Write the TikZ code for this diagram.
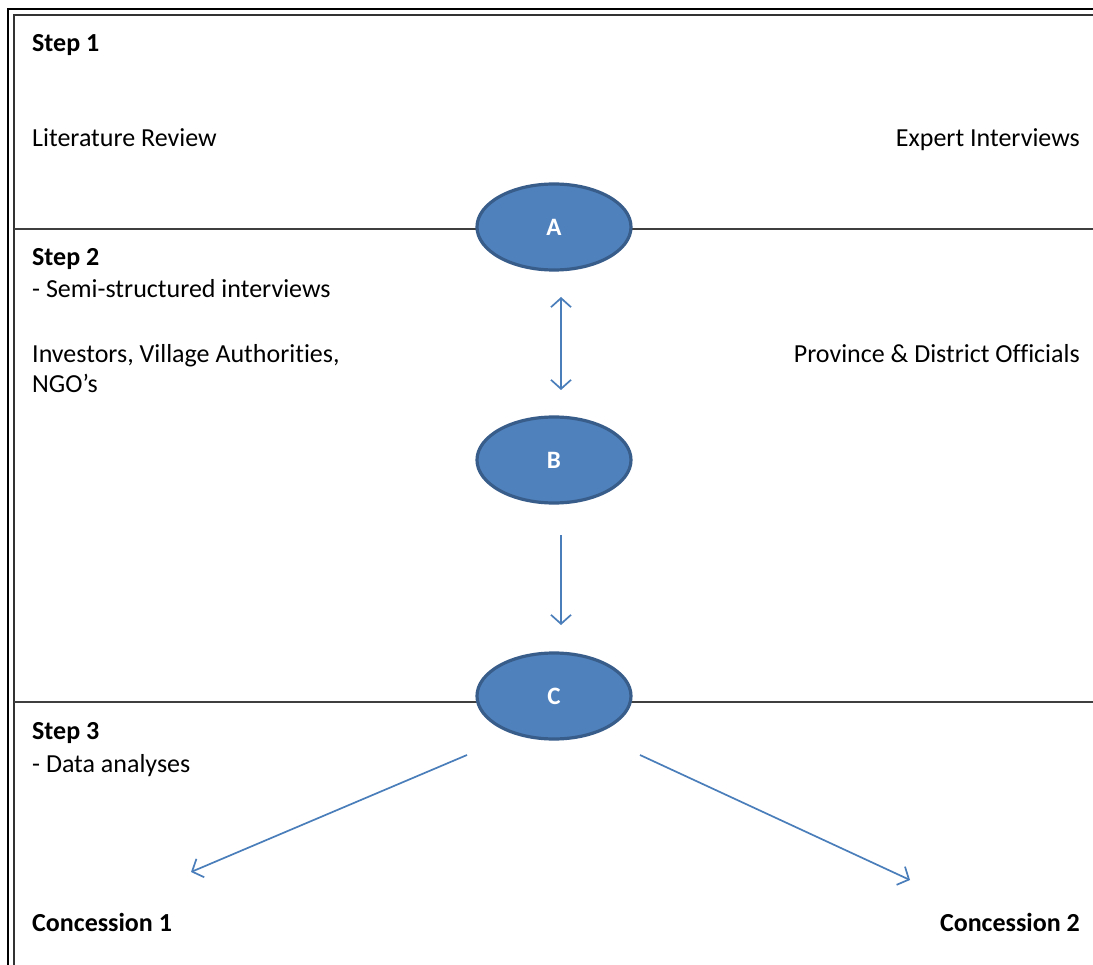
\documentclass[tikz,border=0pt]{standalone}
\usepackage{fontspec}
\setmainfont{Carlito}[Ligatures=NoCommon]
\usetikzlibrary{shapes.geometric,arrows.meta}
\definecolor{ovalfill}{HTML}{4F81BD}
\definecolor{ovaledge}{HTML}{385D8A}
\definecolor{arrowblue}{HTML}{4A7EBB}
\definecolor{rulegray}{HTML}{3F3F3F}
\begin{document}
\begin{tikzpicture}[x=1pt,y=-1pt,
  txt/.style={inner sep=0pt,font=\fontsize{26}{31}\selectfont},
  head/.style={txt,font=\fontsize{26}{31}\selectfont\bfseries},
  oval/.style={ellipse,draw=ovaledge,line width=3.2pt,fill=ovalfill,
    minimum width=154pt,minimum height=86pt,inner sep=0pt,
    text=white,font=\fontsize{25}{29}\selectfont\bfseries},
  rule/.style={draw=rulegray,line width=1.5pt},
  flow/.style={draw=arrowblue,line width=1.7pt,
    -{Straight Barb[length=9pt,width=20pt,line width=1.7pt]}},
  flowboth/.style={flow,
    {Straight Barb[length=9pt,width=20pt,line width=1.7pt]}-{Straight Barb[length=9pt,width=20pt,line width=1.7pt]}}]
\useasboundingbox (0,0) rectangle (1093,965);
\fill[white] (0,0) rectangle (1093,965);

% double frame (runs off the right and bottom edges)
\draw[line width=2pt,black] (8,1000) -- (8,9) -- (1100,9);
\draw[line width=1.6pt,black!80] (14,1000) -- (14,15) -- (1100,15);

% section rules, drawn beneath the ovals
\coordinate (r1l) at (14,229);
\coordinate (r1r) at (1100,229);
\coordinate (r2l) at (14,702);
\coordinate (r2r) at (1100,702);
\draw[rule] (r1l) -- (r1r);
\draw[rule] (r2l) -- (r2r);

% ovals
\node[oval] (A) at (554,227) {A};
\node[oval] (B) at (554,460) {B};
\node[oval] (C) at (554,696) {C};

% texts
\node[head,anchor=base west] (s1) at (32,52) {Step 1};
\node[txt,anchor=base west] (lit) at (32,147) {Literature Review};
\node[txt,anchor=base east] (exp) at (1080,147) {Expert Interviews};
\node[head,anchor=base west] (s2) at (32,266) {Step 2};
\node[txt,anchor=base west] (semi) at (32,298) {- Semi-structured interviews};
\node[txt,anchor=base west] (inv) at (32,363) {Investors, Village Authorities,};
\node[txt,anchor=base west] (ngo) at (32,393) {NGO’s};
\node[txt,anchor=base east] (prov) at (1080,363) {Province \& District Officials};
\node[head,anchor=base west] (s3) at (32,739) {Step 3};
\node[txt,anchor=base west] (data) at (32,772) {- Data analyses};
\node[head,anchor=base west] (con1) at (32,931) {Concession 1};
\node[head,anchor=base east] (con2) at (1080,931) {Concession 2};

% connectors
\coordinate (ab1) at (561,297);
\coordinate (ab2) at (561,390);
\coordinate (bc1) at (561,535);
\coordinate (bc2) at (561,625);
\coordinate (c1a) at (467,755);
\coordinate (c1b) at (191,872);
\coordinate (c2a) at (640,755);
\coordinate (c2b) at (910,880);
\draw[flowboth] (ab1) -- (ab2);
\draw[flow] (bc1) -- (bc2);
\draw[flow] (c1a) -- (c1b);
\draw[flow] (c2a) -- (c2b);
\end{tikzpicture}
\end{document}
